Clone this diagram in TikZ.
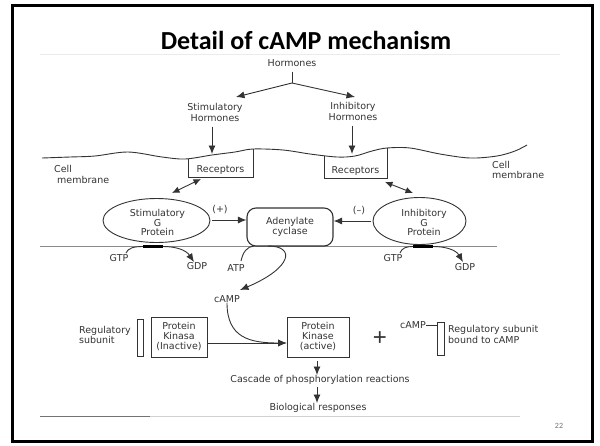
\documentclass[tikz,border=0pt]{standalone}
\usepackage{fontspec}
\setmainfont{DejaVu Sans}
\newfontfamily\titlefont{Carlito}
\usetikzlibrary{arrows.meta,shapes.geometric}
\tikzset{
  lbl/.style={font=\fontsize{9.5}{10.5}\selectfont, text=black!80, inner sep=0pt, align=center},
  ln/.style={draw=black!80, line width=0.9pt},
  arr/.style={ln, -{Latex[length=8.5pt,width=7pt]}},
  darr/.style={ln, {Latex[length=7.5pt,width=6.5pt]}-{Latex[length=7.5pt,width=6.5pt]}},
  boxnode/.style={ln, rectangle, inner sep=0pt, align=center, text=black!80, font=\fontsize{9.5}{10}\selectfont},
  gprot/.style={ln, ellipse, inner sep=0pt},
  gtext/.style={lbl, font=\fontsize{9.5}{9.5}\selectfont},
  memline/.style={draw=black!45, line width=1.3pt},
}
\begin{document}
\begin{tikzpicture}[x=1pt,y=-1pt]
\useasboundingbox (0,0) rectangle (600,445);
\fill[white] (0,0) rectangle (600,445);
% frame
\draw[line width=3pt] (12.5,5.5) rectangle (592.5,441.5);
% faint scan line
\draw[black!8, line width=1pt] (40,54) -- (560,54);
% title
\node[font=\titlefont\bfseries\fontsize{26}{26}\selectfont, anchor=base, inner sep=0pt] (title) at (306,49) {Detail of cAMP mechanism};
% hormones
\node[lbl] (horm) at (292,63) {Hormones};
\node[lbl] (sh) at (215,112.5) {Stimulatory\\Hormones};
\node[lbl] (ih) at (353,111.5) {Inhibitory\\Hormones};
\coordinate (fork) at (292,83);
\coordinate (shTip) at (236,97);
\coordinate (ihTip) at (355,97);
\draw[ln] ([yshift=-5pt]horm.south) -- (fork);
\draw[arr] (fork) -- (shTip);
\draw[arr] (fork) -- (ihTip);
\coordinate (mL) at (212,154);
\coordinate (mR) at (352,154);
\draw[arr] (sh.south -| mL) ++(0,5) -- (mL);
\draw[arr] (ih.south -| mR) ++(0,5) -- (mR);
% membrane
\draw[ln] plot[smooth, tension=0.55] coordinates {(42,158) (70,157) (95,156) (128,152) (162,157) (185,159) (212,155) (235,152) (253,149) (283,150) (310,154) (337,157) (355,156) (372,151) (387,148) (410,148) (440,154) (470,158) (497,156) (515,151) (527,145)};
% receptors
\draw[ln] (188,158.5) |- (253,177) -- (253,149);
\draw[ln] (324,155.5) |- (387,178) -- (387,148);
\node[lbl] (recL) at (220.5,170) {Receptors};
\node[lbl] (recR) at (355.5,171) {Receptors};
\node[lbl, align=left, anchor=west] (cmL) at (54,174.5) {Cell\\\hspace{3pt}membrane};
\node[lbl, align=left, anchor=west] (cmR) at (492,170) {Cell\\membrane};
% inner membrane line
\draw[memline] (40,246.5) -- (497,246.5);
% G proteins and adenylate cyclase
\node[gprot, minimum width=107pt, minimum height=44pt] (sg) at (156.5,220.5) {};
\node[gtext] (sgt) at (157.5,222.5) {Stimulatory\\G\\Protein};
\node[gprot, minimum width=93pt, minimum height=47pt] (ig) at (419.5,221) {};
\node[gtext] (igt) at (424,222.5) {Inhibitory\\G\\Protein};
\node[boxnode, rounded corners=9pt, line width=1.1pt, minimum width=86pt, minimum height=38pt] (adc) at (290,227) {Adenylate\\cyclase};
% receptor <-> G protein
\coordinate (dLa) at (172,193);
\coordinate (dLb) at (201,179);
\coordinate (dRa) at (385,182);
\coordinate (dRb) at (413,193);
\draw[darr] (dLa) -- (dLb);
\draw[darr] (dRa) -- (dRb);
% (+) and (-)
\node[lbl] (plus) at (220,210) {(+)};
\node[lbl] (minus) at (359,211) {(–)};
\draw[arr] (212,220) -- (adc.west |- 0,220);
\draw[arr] (371,221) -- (adc.east |- 0,221);
% GTP / GDP
\node[lbl] (gtpL) at (119,258) {GTP};
\node[lbl] (gdpL) at (197,266) {GDP};
\node[lbl] (gtpR) at (393,258) {GTP};
\node[lbl] (gdpR) at (465,267) {GDP};
\draw[ln] (126,253) .. controls (128,248) and (134,246.5) .. (143,246.5);
\draw[line width=2.6pt] (143,246.5) -- (163,246.5);
\draw[arr] (163,246.5) .. controls (176,246.5) and (186,250) .. (194,262);
\draw[ln] (400,253) .. controls (402,248) and (406,246.5) .. (413,246.5);
\draw[line width=2.6pt] (413,246.5) -- (433,246.5);
\draw[arr] (433,246.5) .. controls (446,246.5) and (456,250) .. (463,262);
% ATP -> cAMP
\node[lbl] (atp) at (236,268) {ATP};
\node[lbl] (camp) at (227,299) {cAMP};
\draw[ln] (241,261) .. controls (243,252) and (247,246.5) .. (254,246);
\draw[arr] (268,246) .. controls (296,246) and (292,268) .. (240,290);
% kinases
\node[lbl, align=left, anchor=west, font=\fontsize{9.5}{8.8}\selectfont] (regsub) at (79,335) {Regulatory\\subunit};
\node[ln, rectangle, minimum width=6pt, minimum height=37pt, inner sep=0pt, line width=0.8pt] (barL) at (140,337.5) {};
\node[boxnode, minimum width=56pt, minimum height=40pt] (inact) at (179,337) {Protein\\Kinasa\\(Inactive)};
\node[boxnode, minimum width=62pt, minimum height=40pt] (act) at (318,337) {Protein\\Kinase\\(active)};
\draw[arr] ([yshift=-6pt]inact.east) -- ([yshift=-6pt]act.west);
\draw[arr] (camp.south) .. controls (227,338) and (250,343) .. ([yshift=-6pt]act.west);
\node[font=\fontsize{24}{24}\selectfont\fontspec{Liberation Sans}, text=black!80, inner sep=0pt] (pl) at (380,339) {+};
\node[lbl] (camp2) at (413,325) {cAMP};
\node[ln, rectangle, minimum width=7pt, minimum height=33pt, inner sep=0pt, line width=0.8pt] (barR) at (440.5,338.5) {};
\draw[ln, line width=0.7pt] (camp2.east) -- (camp2.east -| barR.west);
\node[lbl, align=left, anchor=west, font=\fontsize{9.5}{8.8}\selectfont] (regbound) at (448,334.5) {Regulatory subunit\\bound to cAMP};
% cascade
\node[lbl] (casc) at (320,380) {Cascade of phosphorylation reactions};
\node[lbl] (bio) at (318,408) {Biological responses};
\draw[arr] ([yshift=-4pt]act.south -| 317,0) -- (317,375);
\draw[arr] (317,387) -- (317,403);
% bottom rule
\draw[black!55, line width=1pt] (40,416) -- (150,416);
\draw[black!18, line width=1pt] (150,416) -- (520,416);
% page number
\node[font=\titlefont\fontsize{8}{8}\selectfont, text=black!55, inner sep=0pt] (pg) at (559,426) {22};
\end{tikzpicture}
\end{document}
